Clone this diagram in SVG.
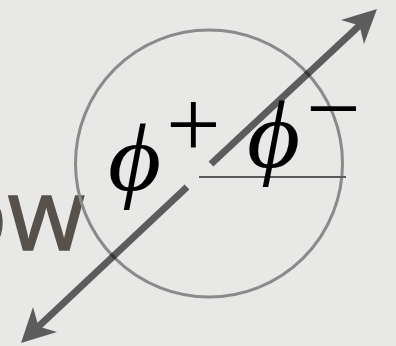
<svg xmlns="http://www.w3.org/2000/svg" width="396" height="346" viewBox="0 0 396 346">
  <style>
    .sym { font-family: "Liberation Serif", "DejaVu Serif", serif; fill: #000; }
    .phi { font-style: italic; font-size: 95px; }
    .op { font-size: 97px; }
    .word { font-family: "Open Sans", "Liberation Sans", sans-serif; font-size: 100px; fill: #57514c; stroke: #57514c; stroke-width: 1.4; }
    .arrow { fill: #000; }
  </style>
  <rect x="0" y="0" width="396" height="346" fill="#e8e9e7"/>
  <g id="word">
    <text class="word" x="85" y="250" text-anchor="end">ow</text>
  </g>
  <g id="circle">
    <circle cx="209" cy="163.5" r="133.5" fill="none" stroke="#8a8a8a" stroke-width="3"/>
  </g>
  <g id="connectors" opacity="0.6">
    <line x1="211" y1="164" x2="360" y2="25" stroke="#000" stroke-width="7"/>
    <polygon class="arrow" points="377,9 341,20 359.5,25.4 364,44"/>
    <line x1="187" y1="187" x2="38" y2="327" stroke="#000" stroke-width="7"/>
    <polygon class="arrow" points="21,343 33,307 38.5,326.6 57,332"/>
  </g>
  <g id="baseline">
    <line x1="199" y1="177" x2="346" y2="177" stroke="#5a5a5a" stroke-width="2"/>
  </g>
  <g id="phi-plus">
    <text class="sym phi" x="108" y="190" transform="translate(108 190) scale(1.08 1) translate(-108 -190)">ϕ</text>
    <text class="sym op" x="166" y="157">+</text>
  </g>
  <g id="phi-minus">
    <text class="sym phi" x="247" y="167" transform="translate(247 167) scale(1.08 1) translate(-247 -167)">ϕ</text>
    <text class="sym op" x="306" y="141">−</text>
  </g>
</svg>
